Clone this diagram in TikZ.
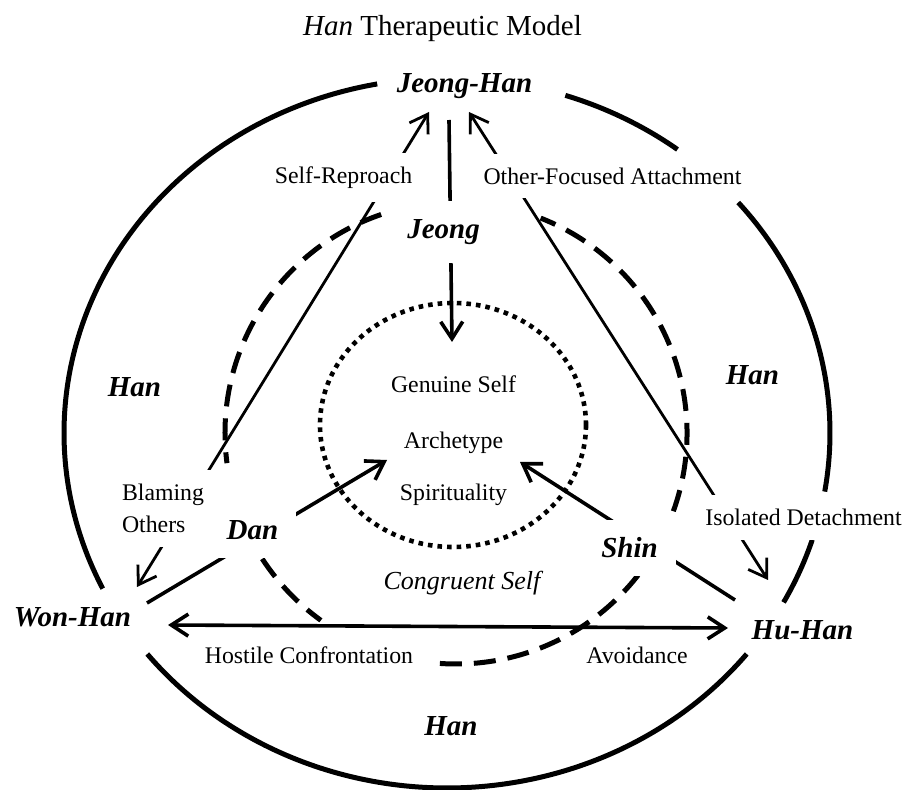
\documentclass[tikz,border=0pt]{standalone}
\usepackage{fontspec}
\setmainfont{Liberation Serif}
\usetikzlibrary{arrows.meta}

\begin{document}
\begin{tikzpicture} [x = 0.5pt, y = 0.5pt,
  >= {Straight Barb[length = 8.5pt, width = 11pt]},
  hanbig/.style = {font = \fontsize{14.5}{17}\selectfont\bfseries\itshape},
  smalltext/.style = {font = \fontsize{11.9}{16}\selectfont},
  titletext/.style = {font = \fontsize{14.5}{17}\selectfont},
  cover/.style = {fill = white, inner sep = 7pt},
  midcover/.style = {fill = white, inner sep = 9pt},
  spoke/.style = {line width = 1.8pt},
  side/.style = {line width = 1.4pt},
  baseline arrow/.style = {line width = 1.8pt},
  outerring/.style = {line width = 2.5pt},
  midring/.style = {line width = 2.5pt, dash pattern = on 11pt off 6pt},
  innerring/.style = {line width = 2.3pt, dash pattern = on 2.3pt off 2.5pt}]
\useasboundingbox (0.0, 0.0) rectangle (907.0, 789.0);

% outer ring, broken at the labels
\draw[outerring] (447.0, 356.0) ++(53.0:191.5pt and 177.5pt) arc [start angle = 53.0, end angle = 72.0, x radius = 191.5pt, y radius = 177.5pt];
\draw[outerring] (447.0, 356.0) ++(-9.5:191.5pt and 177.5pt) arc [start angle = -9.5, end angle = 40.5, x radius = 191.5pt, y radius = 177.5pt];
\draw[outerring] (447.0, 356.0) ++(-28.5:191.5pt and 177.5pt) arc [start angle = -28.5, end angle = -17.5, x radius = 191.5pt, y radius = 177.5pt];
\draw[outerring] (447.0, 356.0) ++(-141.5:191.5pt and 177.5pt) arc [start angle = -141.5, end angle = -38.5, x radius = 191.5pt, y radius = 177.5pt];
\draw[outerring] (447.0, 356.0) ++(100.5:191.5pt and 177.5pt) arc [start angle = 100.5, end angle = 206.0, x radius = 191.5pt, y radius = 177.5pt];

% dashed ring
\draw[midring] (456.0, 356.0) ++(-19.8:115.5pt) arc [start angle = -19.8, end angle = 68.5, radius = 115.5pt];
\draw[midring] (456.0, 356.0) ++(-94.0:115.5pt) arc [start angle = -94.0, end angle = -36.6, radius = 115.5pt];
\draw[midring] (456.0, 356.0) ++(-147.0:115.5pt) arc [start angle = -147.0, end angle = -125.8, radius = 115.5pt];
\draw[midring] (456.0, 356.0) ++(108.9:115.5pt) arc [start angle = 108.9, end angle = 187.5, radius = 115.5pt];

% dotted core
\draw[innerring] (453.0, 364.0) ellipse [x radius = 66.5pt, y radius = 61pt];

\node[titletext] (title) at (442.5, 760.5) {\textit{Han} Therapeutic Model};
\node[hanbig] (jeonghan) at (464.5, 703.0) {Jeong-Han};
\node[hanbig] (wonhan) at (72.5, 172.0) {Won-Han};
\node[hanbig] (huhan) at (802.5, 159.0) {Hu-Han};

\node[smalltext] (genuine) at (453.5, 404.5) {Genuine Self};
\node[smalltext] (archetype) at (453.5, 346.5) {Archetype};
\node[smalltext] (spirit) at (453.5, 294.5) {Spirituality};
\coordinate (tipj) at (452.0, 447.0);
\coordinate (tipd) at (387.0, 329.0);
\coordinate (tips) at (520.0, 327.0);

% spokes into the core
\draw[spoke, ->] ([shift = {(-15.5, -34.0)}]jeonghan.center) -- (tipj);
\draw[spoke, ->] ([shift = {(74.5, 14.0)}]wonhan.center) -- (tipd);
\draw[spoke, ->] ([shift = {(-67.5, 30.0)}]huhan.center) -- (tips);

% triangle sides
\draw[side, <->] ([shift = {(64.5, 30.0)}]wonhan.center) -- ([shift = {(-35.5, -26.0)}]jeonghan.center);
\draw[side, <->] ([shift = {(4.5, -26.0)}]jeonghan.center) -- ([shift = {(-34.5, 50.0)}]huhan.center);
\draw[baseline arrow, <->] ([shift = {(95.5, -8.0)}]wonhan.center) -- ([shift = {(-74.5, 2.0)}]huhan.center);

\node[hanbig, midcover] (jeong) at (443.5, 557.0) {Jeong};
\node[hanbig, midcover] (dan) at (252.5, 258.5) {Dan};
\node[hanbig, midcover] (shin) at (629.5, 241.0) {Shin};

\node[smalltext, cover] (selfreproach) at (343.5, 611.5) {Self-Reproach};
\node[smalltext, cover] (otherfocus) at (612.5, 613.0) {Other-Focused Attachment};
\node[smalltext, cover, align = left] (blaming) at (163.0, 280.5) {Blaming\\Others};
\node[smalltext, cover] (isolated) at (803.5, 271.5) {Isolated Detachment};
\node[smalltext] (hostile) at (309.0, 133.5) {Hostile Confrontation};
\node[smalltext] (avoidance) at (637.0, 133.5) {Avoidance};
\node[font = \fontsize{13}{16}\selectfont\itshape] (congruent) at (462.0, 206.0) {Congruent Self};

\node[hanbig] (hanleft) at (134.5, 402.0) {Han};
\node[hanbig] (hanright) at (752.5, 414.0) {Han};
\node[hanbig] (hanbottom) at (451.0, 63.0) {Han};
\end{tikzpicture}
\end{document}
